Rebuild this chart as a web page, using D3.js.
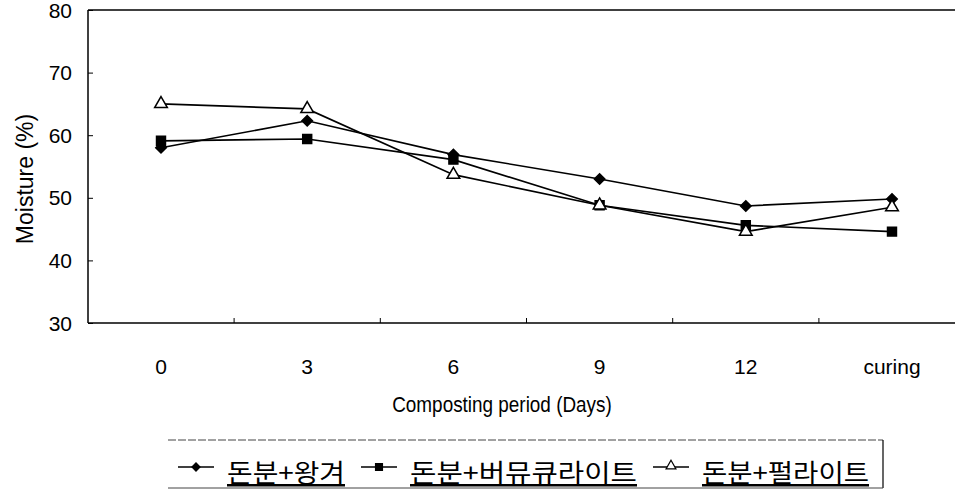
<!DOCTYPE html>
<html>
<head>
<meta charset="utf-8">
<script src="https://cdn.jsdelivr.net/npm/d3@7"></script>
<style>
  body { margin: 0; background: #fff; }
  text { font-family: "Liberation Sans", Arial, sans-serif; fill: #000; }
  .kr { font-family: "Noto Sans CJK KR", sans-serif; }
</style>
</head>
<body>
<svg width="956" height="491"></svg>
<script>
var days = ['0', '3', '6', '9', '12', 'curing']
var seriesNames = ['돈분+왕겨', '돈분+버뮤큐라이트', '돈분+펄라이트']
var wangyeo = [58.0, 62.3, 56.9, 53.0, 48.7, 49.8]      // diamond
var vermiculite = [59.1, 59.4, 56.1, 48.8, 45.6, 44.6]  // square
var perlite = [65.0, 64.2, 53.7, 48.8, 44.6, 48.5]      // triangle
var yTicks = [30, 40, 50, 60, 70, 80]

var series = [wangyeo, vermiculite, perlite]
// diamond = square turned 45deg, looks more like the scanned marker than symbolDiamond
var shapes = [d3.symbolSquare, d3.symbolSquare, d3.symbolTriangle]
var rotations = [45, 0, 0]
var sizes = [55, 80, 70]

var margin = { top: 10, left: 88, right: 1, bottom: 168 }
var width = 956, height = 491

var svg = d3.select('svg')

var xScale = d3.scalePoint()
  .domain(days)
  .range([161, 892])

var step = xScale.step()

var yScale = d3.scaleLinear()
  .domain([30, 80])
  .range([height - margin.bottom, margin.top])

// frame (no right edge visible)
var g = svg.append('g')
g.append('line').attr('x1', margin.left).attr('x2', width - margin.right)
  .attr('y1', margin.top).attr('y2', margin.top)
  .attr('stroke', '#000').attr('stroke-width', 1.5)
g.append('line').attr('x1', margin.left).attr('x2', width - margin.right)
  .attr('y1', yScale(30)).attr('y2', yScale(30))
  .attr('stroke', '#000').attr('stroke-width', 1.5)
g.append('line').attr('x1', margin.left).attr('x2', margin.left)
  .attr('y1', margin.top).attr('y2', yScale(30))
  .attr('stroke', '#000').attr('stroke-width', 1.5)

// y axis, ticks pointing inward
var yAxis = d3.axisRight(yScale).tickValues(yTicks).tickSize(5).tickFormat('')
svg.append('g')
  .attr('transform', 'translate(' + [margin.left, 0] + ')')
  .call(yAxis)
  .call(a => a.select('.domain').remove())

svg.selectAll('.ylab')
  .data(yTicks)
  .enter().append('text')
  .attr('class', 'ylab')
  .attr('x', 72)
  .attr('y', d => yScale(d))
  .attr('dy', '0.36em')
  .attr('text-anchor', 'end')
  .style('font-size', '21px')
  .text(d => d)

// x ticks sit between the categories and point up
var boundaries = days.slice(1).map(d => xScale(d) - step / 2)
svg.selectAll('.xtick')
  .data(boundaries)
  .enter().append('line')
  .attr('x1', d => d).attr('x2', d => d)
  .attr('y1', yScale(30)).attr('y2', yScale(30) - 5)
  .attr('stroke', '#000')

svg.selectAll('.xlab')
  .data(days)
  .enter().append('text')
  .attr('x', d => xScale(d))
  .attr('y', 374)
  .attr('text-anchor', 'middle')
  .style('font-size', '21px')
  .text(d => d)

svg.append('text')
  .attr('transform', 'translate(502,412) scale(0.86,1)')
  .attr('text-anchor', 'middle')
  .style('font-size', '22px')
  .text('Composting period (Days)')

svg.append('text')
  .attr('transform', 'translate(33,179) rotate(-90)')
  .attr('text-anchor', 'middle')
  .style('font-size', '23px')
  .text('Moisture (%)')

// lines + markers
var line = d3.line()
  .x((d, i) => xScale(days[i]))
  .y(d => yScale(d))

series.forEach(function (s, k) {
  svg.append('path')
    .datum(s)
    .attr('d', line)
    .attr('fill', 'none')
    .attr('stroke', '#000')
    .attr('stroke-width', 1.6)

  svg.selectAll('.m' + k)
    .data(s)
    .enter().append('path')
    .attr('transform', (d, i) => 'translate(' + [xScale(days[i]), yScale(d)] + ') rotate(' + rotations[k] + ')')
    .attr('d', d3.symbol().type(shapes[k]).size(sizes[k]))
    .attr('fill', k === 2 ? '#fff' : '#000')
    .attr('stroke', '#000')
    .attr('stroke-width', 1.5)
})

// legend
var lg = svg.append('g')
lg.append('line').attr('x1', 168).attr('x2', 883).attr('y1', 440).attr('y2', 440)
  .attr('stroke', '#444').attr('stroke-width', 1).attr('stroke-dasharray', '8,2')
lg.append('line').attr('x1', 883).attr('x2', 883).attr('y1', 440).attr('y2', 488)
  .attr('stroke', '#000').attr('stroke-width', 1.2)
lg.append('line').attr('x1', 168).attr('x2', 883).attr('y1', 488).attr('y2', 488)
  .attr('stroke', '#444').attr('stroke-width', 1)

var legendX = [178, 361, 653]
var legendW = [118, 227, 167]
seriesNames.forEach(function (name, k) {
  var item = lg.append('g').attr('transform', 'translate(' + [legendX[k], 467] + ')')
  item.append('line').attr('x1', 0).attr('x2', 36).attr('y1', 0).attr('y2', 0)
    .attr('stroke', '#000').attr('stroke-width', 1.5)
  item.append('path')
    .attr('transform', 'translate(18,' + (k === 2 ? -1 : 0) + ') rotate(' + rotations[k] + ')')
    .attr('d', d3.symbol().type(shapes[k]).size(sizes[k] * 0.6))
    .attr('fill', k === 2 ? '#fff' : '#000')
    .attr('stroke', '#000').attr('stroke-width', 1.2)
  item.append('text')
    .attr('class', 'kr')
    .attr('x', 49).attr('y', 15)
    .attr('textLength', legendW[k])
    .attr('lengthAdjust', 'spacingAndGlyphs')
    .style('font-size', '25px')
    .style('text-decoration', 'underline')
    .text(name)
})
</script>
</body>
</html>
